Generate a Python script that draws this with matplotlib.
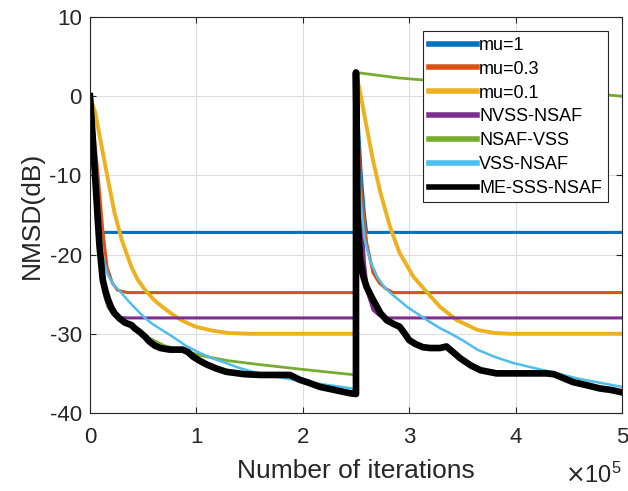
import matplotlib
matplotlib.use("Agg")
import matplotlib.pyplot as plt

plt.rcParams['font.family'] = ['Liberation Sans', 'DejaVu Sans']
plt.rcParams['axes.unicode_minus'] = False

# x in units of 1e5 iterations, y in dB
mu1_x = [0, 0.02, 0.05, 0.08, 0.1, 0.12, 2.5, 2.5, 2.52, 2.55, 2.58, 2.6, 5.0]
mu1_y = [0, -4, -9, -13, -15.5, -17.2, -17.2, 3.0, -3, -10, -15, -17.2, -17.2]

mu03_x = [0, 0.04, 0.08, 0.12, 0.16, 0.21, 0.26, 0.35, 2.5, 2.5, 2.52, 2.55,
          2.6, 2.66, 2.72, 2.78, 2.85, 5.0]
mu03_y = [0, -5, -10.6, -16.9, -21.6, -23.6, -24.5, -24.8, -24.8, 3.0, -5, -12.2,
          -18.5, -22.3, -23.6, -24.3, -24.8, -24.8]

mu01_x = [0, 0.05, 0.11, 0.17, 0.23, 0.3, 0.39, 0.45, 0.52, 0.6, 0.68, 0.77, 0.86,
          0.99, 1.15, 1.3, 1.5, 2.5, 2.5, 2.54, 2.6, 2.66, 2.73, 2.82, 2.91, 3.04,
          3.17, 3.29, 3.45, 3.64, 3.8, 3.95, 5.0]
mu01_y = [0, -2.1, -6.4, -10.6, -14.7, -18.2, -21.6, -23.2, -24.5, -25.7, -26.6,
          -27.5, -28.3, -29.1, -29.6, -29.9, -30, -30, 3.0, 0.4, -3.9, -8.1, -12.2,
          -16.5, -19.8, -22.8, -24.8, -26.6, -28.3, -29.5, -29.9, -30, -30]

nvss_x = [0, 0.03, 0.06, 0.09, 0.11, 0.14, 0.17, 0.21, 0.26, 0.35, 2.5, 2.5, 2.52,
          2.55, 2.58, 2.61, 2.66, 2.71, 2.76, 2.85, 5.0]
nvss_y = [0, -6.4, -12.7, -19, -23.2, -25.3, -26.6, -27.4, -27.9, -28, -28, 3.0, -8,
          -15, -21, -24.9, -27, -27.6, -28, -28, -28]

nsafvss_x = [0, 0.03, 0.06, 0.09, 0.11, 0.14, 0.17, 0.22, 0.28, 0.35, 0.45, 0.55,
             0.7, 0.9, 1.06, 1.3, 1.6, 2.0, 2.5, 2.5, 2.7, 2.9, 3.5, 4.0, 4.5, 5.0]
nsafvss_y = [0, -6.4, -12.7, -19, -23.2, -25.3, -26.6, -27.6, -28.2, -28.7, -29.5,
             -30.5, -31.5, -32.2, -32.8, -33.4, -33.9, -34.5, -35.2, 3.0, 2.65, 2.3,
             1.65, 1.1, 0.6, 0.0]

vss_x = [0, 0.03, 0.06, 0.09, 0.12, 0.17, 0.22, 0.28, 0.35, 0.42, 0.5, 0.58, 0.65,
         0.78, 0.9, 1.03, 1.15, 1.28, 1.4, 1.53, 1.7, 1.91, 2.15, 2.41, 2.5, 2.5,
         2.52, 2.55, 2.58, 2.63, 2.7, 2.76, 2.82, 2.9, 2.98, 3.07, 3.17, 3.29, 3.38,
         3.5, 3.64, 3.8, 3.98, 4.2, 4.39, 4.6, 4.8, 5.0]
vss_y = [0, -6.4, -12.7, -17.5, -20.3, -22.6, -23.8, -24.6, -25.7, -26.7, -27.8,
         -28.7, -29.3, -30.4, -31.5, -32.4, -33.1, -33.7, -34.3, -34.8, -35.3, -35.8,
         -36.3, -36.8, -37, 3.0, -8, -14, -18, -20.7, -22.8, -24, -24.8, -25.7, -26.6,
         -27.4, -28.3, -29.3, -29.9, -30.8, -32, -32.9, -33.7, -34.4, -35, -35.7,
         -36.2, -36.7]

me_x = [0, 0.015, 0.03, 0.045, 0.06, 0.075, 0.09, 0.12, 0.145, 0.17, 0.2, 0.23, 0.28,
        0.33, 0.39, 0.42, 0.47, 0.52, 0.56, 0.61, 0.66, 0.75, 0.87, 0.92, 0.97, 1.03,
        1.1, 1.19, 1.28, 1.45, 1.6, 1.75, 1.88, 1.97, 2.06, 2.16, 2.3, 2.44, 2.5,
        2.5, 2.515, 2.54, 2.57, 2.6, 2.66, 2.73, 2.79, 2.86, 2.91, 2.96, 3.0, 3.06,
        3.13, 3.2, 3.29, 3.35, 3.42, 3.48, 3.58, 3.67, 3.82, 4.0, 4.15, 4.29, 4.36,
        4.45, 4.54, 4.67, 4.79, 4.9, 5.0]
me_y = [0, -3, -6.4, -9.5, -12.7, -16, -19, -23.2, -24.6, -25.7, -26.7, -27.4,
        -28.1, -28.6, -28.9, -29.3, -29.8, -30.4, -31, -31.5, -31.8, -32, -32,
        -32.3, -32.9, -33.4, -33.9, -34.4, -34.8, -35.1, -35.2, -35.2, -35.2, -35.8,
        -36.2, -36.7, -37.1, -37.5, -37.6, 3.0, -15.6, -20.7, -22.8, -24.1, -25.7,
        -27.4, -28.3, -28.8, -29.1, -30, -30.8, -31.3, -31.7, -31.8, -31.8, -31.6,
        -32.4, -33.1, -34, -34.6, -35, -35, -35, -35, -35.1, -35.6, -36.1, -36.5,
        -36.9, -37.1, -37.4]

x_ticks = [0, 1, 2, 3, 4, 5]
y_ticks = [-40, -30, -20, -10, 0, 10]

fig = plt.figure(figsize=(6.28, 4.91), dpi=100)
ax = fig.add_axes([0.1433, 0.1589, 0.8471, 0.8065])

ax.plot(mu1_x, mu1_y, color='#0072BD', lw=2.2, label='mu=1')
ax.plot(mu03_x, mu03_y, color='#D95319', lw=2.2, label='mu=0.3')
ax.plot(mu01_x, mu01_y, color='#EDB120', lw=2.8, label='mu=0.1')
ax.plot(nvss_x, nvss_y, color='#7E2F8E', lw=2.2, label='NVSS-NSAF')
ax.plot(nsafvss_x, nsafvss_y, color='#77AC30', lw=2.0, label='NSAF-VSS')
ax.plot(vss_x, vss_y, color='#4DBEEE', lw=1.8, label='VSS-NSAF')
ax.plot(me_x, me_y, color='black', lw=4.8, label='ME-SSS-NSAF')

ax.set_xlim(0, 5)
ax.set_ylim(-40, 10)
ax.set_xticks(x_ticks)
ax.set_yticks(y_ticks)
ax.grid(True, color='#DDDDDD', lw=0.8)
ax.set_axisbelow(True)
ax.tick_params(direction='in', length=4, labelsize=16, color='#262626',
               labelcolor='#262626', top=True, right=True)
ax.tick_params(axis='x', pad=10)
ax.tick_params(axis='y', pad=6)
for s in ax.spines.values():
    s.set_color('#262626')
    s.set_linewidth(0.8)

ax.set_xlabel('Number of iterations', fontsize=19, color='#262626', labelpad=8)
ax.set_ylabel('NMSD(dB)', fontsize=19, color='#262626', labelpad=4)
ax.text(1.0, -0.125, r'$\times\mathregular{10^5}$', transform=ax.transAxes,
        ha='right', va='top', fontsize=17, color='#262626')

leg = ax.legend(loc='upper right', fontsize=13, handlelength=2.7, handletextpad=0.1,
                labelspacing=0.38, borderpad=0.3, borderaxespad=0.8, fancybox=False,
                framealpha=1, edgecolor='#262626')
leg.get_frame().set_linewidth(0.8)
for line in leg.get_lines():
    line.set_linewidth(4)

fig.savefig('out.png', dpi=100)
